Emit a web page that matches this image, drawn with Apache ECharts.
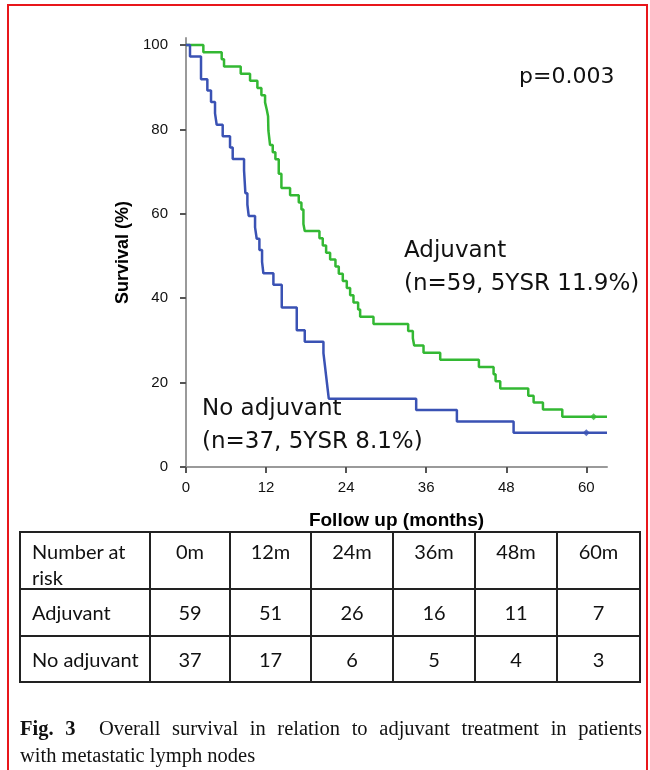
<!DOCTYPE html>
<html>
<head>
<meta charset="utf-8">
<script src="https://cdn.jsdelivr.net/npm/echarts@6/dist/echarts.min.js"></script>
<style>
  html, body { margin:0; padding:0; background:#fff; }
  #wrap { position:relative; width:650px; height:770px; overflow:hidden; }
  #frame { position:absolute; left:7px; top:4px; width:641px; height:780px; border:2px solid #e8161b; box-sizing:border-box; }
  #chart { position:absolute; left:0; top:0; width:650px; height:540px; }
  #risk { position:absolute; left:0; top:0; width:650px; height:770px; font-family:"Lato","Open Sans",sans-serif; font-size:20px; color:#111; }
  .hl { position:absolute; height:2px; background:#222; }
  .vl { position:absolute; width:2px; background:#222; }
  .cell { position:absolute; line-height:26px; white-space:nowrap; }
  #caption { position:absolute; left:20px; top:715px; width:622px; font-family:"Liberation Serif","Times New Roman",serif; font-size:20.5px; line-height:27px; color:#111; }
  #caption .l1 { text-align:justify; text-align-last:justify; white-space:nowrap; }
</style>
</head>
<body>
<div id="wrap">
  <div id="chart"></div>
  <div id="frame"></div>
  <div id="risk"></div>
  <div id="caption"><div class="l1"><b>Fig. 3</b>&nbsp; Overall survival in relation to adjuvant treatment in patients</div><div>with metastatic lymph nodes</div></div>
</div>
<script>
// ---------- data ----------
// Kaplan-Meier steps: [month, survival %] (value after the drop at that month)
const adjuvantSteps = [
  [0,100],[2.6,98.3],[5.35,96.6],[5.7,94.9],[8.2,93.2],[9.6,91.5],[10.7,89.8],[11.3,88.1],
  [11.85,86.4],[12.1,84.7],[12.3,83.1],[12.35,79.7],[12.6,76.3],[13.0,74.6],[13.4,72.9],
  [13.9,69.5],[14.3,66.1],[15.6,64.4],[16.9,62.7],[17.3,61.0],[17.6,57.6],[17.8,55.9],
  [20.0,54.2],[20.5,52.5],[21.0,50.8],[21.6,49.2],[22.4,47.5],[22.9,45.8],[23.5,44.1],
  [24.1,42.4],[24.6,40.7],[25.1,39.0],[25.8,37.3],[26.1,35.6],[28.1,33.9],[33.3,32.2],
  [34.0,30.5],[34.2,28.8],[35.6,27.1],[38.1,25.4],[43.9,23.7],[46.1,22.0],[46.4,20.3],
  [47.1,18.6],[51.3,16.9],[52.1,15.3],[53.5,13.6],[56.4,11.9],[63.1,11.9]
];
const noAdjuvantSteps = [
  [0,100],[0.6,97.3],[2.25,91.9],[3.2,89.2],[3.75,86.5],[4.35,83.8],[4.6,81.1],[5.5,78.4],
  [6.6,75.7],[7.0,73.0],[8.7,70.3],[8.9,64.9],[9.2,62.2],[9.4,59.5],[10.35,56.8],[10.6,54.1],
  [11.0,51.4],[11.4,48.6],[11.6,45.9],[13.1,43.2],[14.35,37.8],[16.6,32.4],[17.8,29.7],
  [20.6,27.0],[20.8,24.3],[21.0,21.6],[21.2,18.9],[21.4,16.2],[34.5,13.5],[40.6,10.8],
  [49.1,8.1],[63.1,8.1]
];
const adjuvantCensor = [[61.1,11.9]];
const noAdjuvantCensor = [[60.0,8.1]];
const xTicks = [0,12,24,36,48,60];
const yTicks = [0,20,40,60,80,100];
const pValue = 'p=0.003';
const adjuvantLabel = ['Adjuvant','(n=59, 5YSR 11.9%)'];
const noAdjuvantLabel = ['No adjuvant','(n=37, 5YSR 8.1%)'];
const riskHeader = ['Number at\nrisk','0m','12m','24m','36m','48m','60m'];
const riskAdjuvant = ['Adjuvant',59,51,26,16,11,7];
const riskNoAdjuvant = ['No adjuvant',37,17,6,5,4,3];

// ---------- table (grid layout) ----------
(function(){
  const host = document.getElementById('risk');
  const xs = [20,150,230,311,393,475,557,640];
  const ys = [532,589,636,682];
  ys.forEach(y=>{ const d=document.createElement('div'); d.className='hl';
    d.style.left=(xs[0]-1)+'px'; d.style.top=(y-1)+'px'; d.style.width=(xs[xs.length-1]-xs[0]+2)+'px'; host.appendChild(d); });
  xs.forEach(x=>{ const d=document.createElement('div'); d.className='vl';
    d.style.left=(x-1)+'px'; d.style.top=(ys[0]-1)+'px'; d.style.height=(ys[ys.length-1]-ys[0]+2)+'px'; host.appendChild(d); });
  const rows = [riskHeader, riskAdjuvant, riskNoAdjuvant];
  const rowTop = [538, 599, 646];
  rows.forEach((row,ri)=>{
    row.forEach((c,ci)=>{
      const d=document.createElement('div'); d.className='cell';
      d.innerHTML = String(c).replace('\n','<br>');
      d.style.top = rowTop[ri]+'px';
      if (ci===0) { d.style.left=(xs[0]+12)+'px'; }
      else { d.style.left=xs[ci]+'px'; d.style.width=(xs[ci+1]-xs[ci])+'px'; d.style.textAlign='center'; }
      host.appendChild(d);
    });
  });
})();

// ---------- chart ----------
const chart = echarts.init(document.getElementById('chart'), null, {renderer:'canvas'});
const axisGray = '#9a9a9a';
const tickFont = {color:'#111', fontFamily:'Liberation Sans, Arial, sans-serif', fontSize:15};
const annFont = '"DejaVu Sans", sans-serif';
chart.setOption({
  animation:false,
  grid:{left:186, right:43, top:38, bottom:540-467, containLabel:false},
  xAxis:{
    type:'value', min:0, max:63.1,
    axisLine:{show:true, lineStyle:{color:axisGray, width:2}},
    axisTick:{show:true, customValues:xTicks, length:6, lineStyle:{color:'#555', width:2}},
    axisLabel:Object.assign({customValues:xTicks, margin:13}, tickFont),
    splitLine:{show:false},
    name:'Follow up (months)', nameLocation:'middle', nameGap:44,
    nameTextStyle:{fontFamily:'Liberation Sans, Arial, sans-serif', fontWeight:'bold', fontSize:19, color:'#000'}
  },
  yAxis:{
    type:'value', min:0, max:101.66,
    axisLine:{show:true, lineStyle:{color:axisGray, width:2}},
    axisTick:{show:true, customValues:yTicks, length:6, lineStyle:{color:'#555', width:2}},
    axisLabel:Object.assign({customValues:yTicks, margin:18}, tickFont),
    splitLine:{show:false},
    name:'Survival (%)', nameLocation:'middle', nameGap:46, nameRotate:90,
    nameTextStyle:{fontFamily:'Liberation Sans, Arial, sans-serif', fontWeight:'bold', fontSize:18, color:'#000'}
  },
  series:[
    {type:'line', step:'end', data:adjuvantSteps, showSymbol:false, lineStyle:{color:'#33b833', width:2.5}, z:3},
    {type:'line', step:'end', data:noAdjuvantSteps, showSymbol:false, lineStyle:{color:'#3a52b4', width:2.5}, z:3},
    {type:'scatter', data:adjuvantCensor, symbol:'diamond', symbolSize:7, itemStyle:{color:'#33b833'}, z:4},
    {type:'scatter', data:noAdjuvantCensor, symbol:'diamond', symbolSize:7, itemStyle:{color:'#3a52b4'}, z:4}
  ],
  graphic:[
    {type:'text', left:519, top:66, style:{text:pValue, font:'22px '+annFont, fill:'#111'}},
    {type:'text', left:404, top:235, style:{text:adjuvantLabel.join('\n'), font:'23px '+annFont, lineHeight:33, fill:'#111'}},
    {type:'text', left:202, top:393, style:{text:noAdjuvantLabel.join('\n'), font:'23px '+annFont, lineHeight:33, fill:'#111'}}
  ]
});
</script>
</body>
</html>
